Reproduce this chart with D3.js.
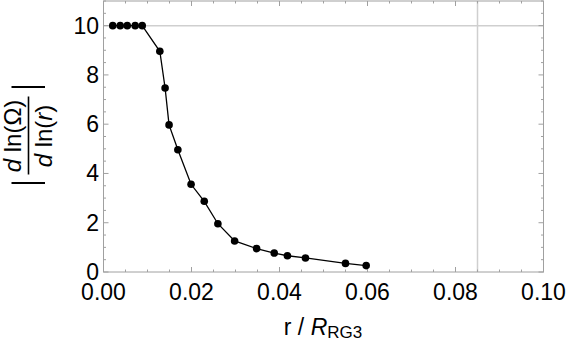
<!DOCTYPE html>
<html>
<head>
<meta charset="utf-8">
<script src="https://cdn.jsdelivr.net/npm/d3@7"></script>
<style>
  body { margin: 0; background: #fff; }
  text { font-family: "Liberation Sans", Arial, sans-serif; fill: #000; }
</style>
</head>
<body>
<div id="chart"></div>
<script>
// points (r / R_RG3 , |dlnΩ/dlnr|)
var rValues = [0.0021, 0.0038, 0.0054, 0.0072, 0.0088, 0.0128, 0.0140, 0.0149, 0.0169, 0.0199,
               0.0229, 0.0260, 0.0298, 0.0348, 0.0388, 0.0418, 0.0459, 0.0550, 0.0597];
var slopeValues = [10, 10, 10, 10, 10, 8.96, 7.47, 5.97, 4.96, 3.56,
                   2.87, 1.96, 1.26, 0.95, 0.77, 0.66, 0.57, 0.35, 0.26];
var xTicks = [0, 0.02, 0.04, 0.06, 0.08, 0.10];
var yTicks = [0, 2, 4, 6, 8, 10];
var gridX = [0.085];
var gridY = [10];

var width = 568, height = 342;
var margin = {top: 1, right: 24.5, bottom: 70, left: 103.5};

var svg = d3.select("#chart")
  .append("svg")
    .attr("width", width)
    .attr("height", height);

var x = d3.scaleLinear()
  .domain([0, 0.1])
  .range([margin.left, width - margin.right]);

var y = d3.scaleLinear()
  .domain([0, 11])
  .range([height - margin.bottom, margin.top]);

// grid lines
svg.selectAll("line.gx")
  .data(gridX)
  .enter().append("line")
    .attr("x1", d => x(d)).attr("x2", d => x(d))
    .attr("y1", y(11)).attr("y2", y(0))
    .attr("stroke", "#cfcfcf").attr("stroke-width", 1.5);
svg.selectAll("line.gy")
  .data(gridY)
  .enter().append("line")
    .attr("x1", x(0)).attr("x2", x(0.1))
    .attr("y1", d => y(d)).attr("y2", d => y(d))
    .attr("stroke", "#cfcfcf").attr("stroke-width", 1.5);

// minor + major ticks on all four sides (inside)
var xMinor = d3.range(0, 0.1001, 0.005);
var yMinor = d3.range(0, 11.01, 0.5);
var tickColor = "#a0a0a0";
function isMajor(v, step) { return Math.abs(v / step - Math.round(v / step)) < 1e-6; }

var ticks = svg.append("g").attr("stroke", tickColor).attr("stroke-width", 1);
xMinor.forEach(function(v) {
  var len = isMajor(v, 0.02) ? 5 : 2.5;
  ticks.append("line").attr("x1", x(v)).attr("x2", x(v)).attr("y1", y(0)).attr("y2", y(0) - len);
  ticks.append("line").attr("x1", x(v)).attr("x2", x(v)).attr("y1", y(11)).attr("y2", y(11) + len);
});
yMinor.forEach(function(v) {
  var len = isMajor(v, 2) ? 5 : 2.5;
  ticks.append("line").attr("x1", x(0)).attr("x2", x(0) + len).attr("y1", y(v)).attr("y2", y(v));
  ticks.append("line").attr("x1", x(0.1)).attr("x2", x(0.1) - len).attr("y1", y(v)).attr("y2", y(v));
});

// frame
svg.append("rect")
  .attr("x", x(0)).attr("y", y(11))
  .attr("width", x(0.1) - x(0)).attr("height", y(0) - y(11))
  .attr("fill", "none").attr("stroke", tickColor).attr("stroke-width", 1);

// tick labels
svg.selectAll("text.xt")
  .data(xTicks)
  .enter().append("text")
    .attr("x", d => x(d))
    .attr("y", y(0) + 28)
    .attr("text-anchor", "middle")
    .style("font-size", "23px")
    .text(d => d.toFixed(2));
svg.selectAll("text.yt")
  .data(yTicks)
  .enter().append("text")
    .attr("x", x(0) - 4.5)
    .attr("y", d => y(d) + 8)
    .attr("text-anchor", "end")
    .style("font-size", "23px")
    .text(d => d);

// data line and points
var pts = rValues.map((r, i) => [r, slopeValues[i]]);
svg.append("path")
  .datum(pts)
  .attr("fill", "none")
  .attr("stroke", "#000")
  .attr("stroke-width", 1.3)
  .attr("d", d3.line().x(d => x(d[0])).y(d => y(d[1])));
svg.selectAll("circle")
  .data(pts)
  .enter().append("circle")
    .attr("cx", d => x(d[0]))
    .attr("cy", d => y(d[1]))
    .attr("r", 3.8)
    .attr("fill", "#000");

// x axis title
var xt = svg.append("text")
  .attr("x", 323)
  .attr("y", 335)
  .attr("text-anchor", "middle")
  .style("font-size", "23px");
xt.append("tspan").text("r / ");
xt.append("tspan").style("font-style", "italic").text("R");
xt.append("tspan").attr("dy", 3).style("font-size", "17px").text("RG3");

// y axis title: |d ln(Ω) / d ln(r)|
var yl = svg.append("g").attr("transform", "translate(28.5,135) rotate(-90)");
yl.append("text")
  .attr("x", -1).attr("y", -7.5)
  .attr("text-anchor", "middle")
  .style("font-size", "24px")
  .call(t => {
    t.append("tspan").style("font-style", "italic").text("d");
    t.append("tspan").text(" ln(\u03A9)");
  });
yl.append("text")
  .attr("x", -1).attr("y", 23)
  .attr("text-anchor", "middle")
  .style("font-size", "24px")
  .call(t => {
    t.append("tspan").style("font-style", "italic").text("d");
    t.append("tspan").text(" ln(");
    t.append("tspan").style("font-style", "italic").text("r");
    t.append("tspan").text(")");
  });
yl.append("line")
  .attr("x1", -39.5).attr("x2", 38.5).attr("y1", 0).attr("y2", 0)
  .attr("stroke", "#000").attr("stroke-width", 1.6);
[-48, 48].forEach(function(px) {
  yl.append("line")
    .attr("x1", px).attr("x2", px).attr("y1", -17).attr("y2", 16.5)
    .attr("stroke", "#000").attr("stroke-width", 2);
});
</script>
</body>
</html>
